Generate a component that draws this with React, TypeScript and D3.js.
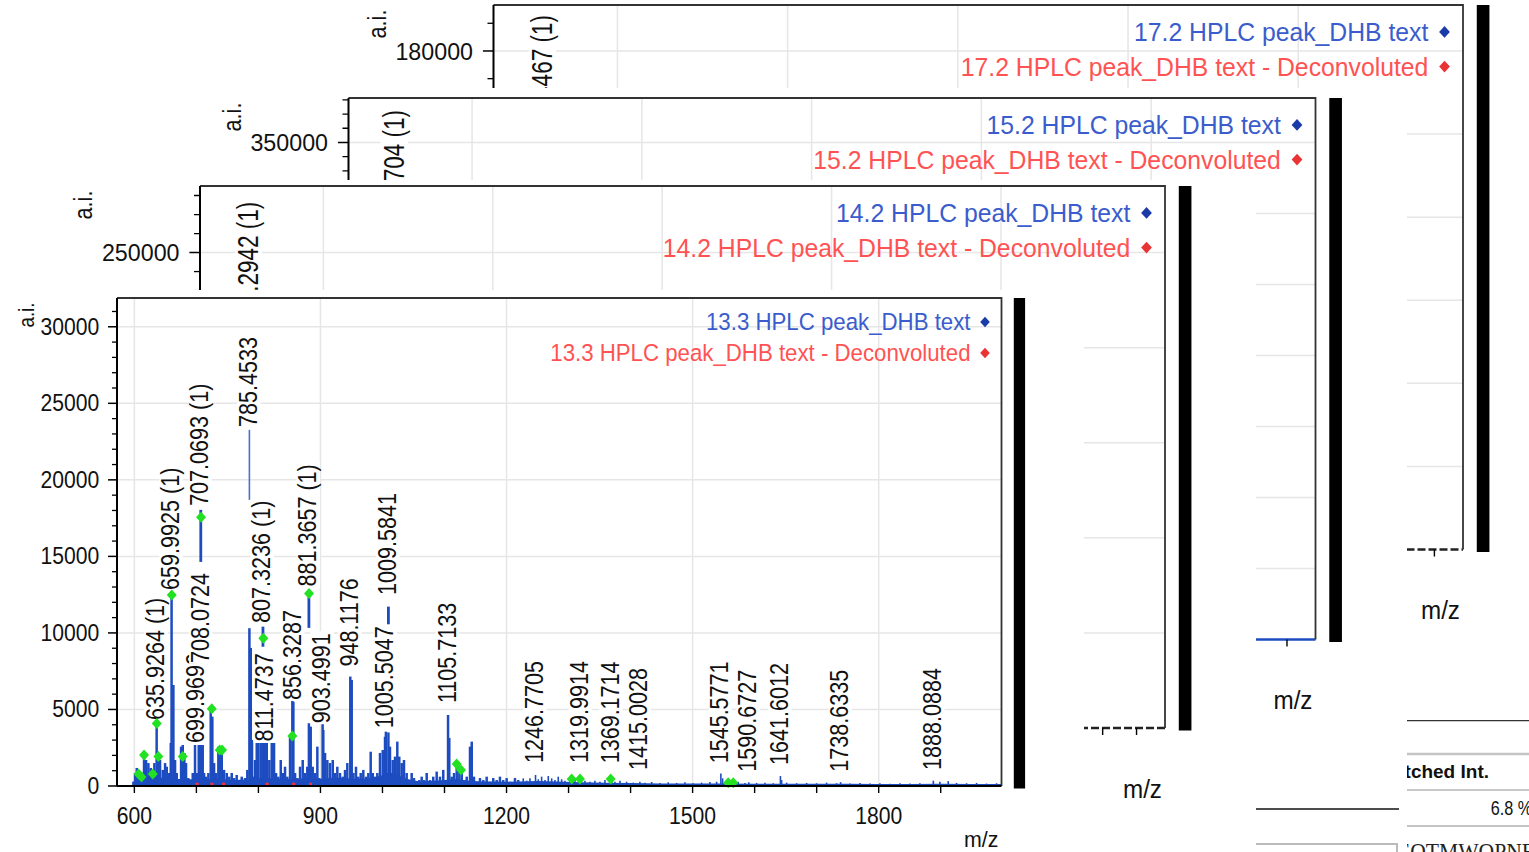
import * as d3 from 'd3';

const W = 1529;
const H = 852;
const FONT = "'Liberation Sans', Arial, Helvetica, sans-serif";
const BLUE = '#1d4cc0';
const LEGEND_BLUE = '#3a5ccc';
const LEGEND_RED = '#ff5252';
const GRID = '#e6e6e6';
const GREEN = '#22e022';

// ---------- data ----------
// spectra, back to front
const panelNames = [
  '17.2 HPLC peak_DHB text',
  '15.2 HPLC peak_DHB text',
  '14.2 HPLC peak_DHB text',
  '13.3 HPLC peak_DHB text',
];
const deconvolutedSuffix = ' - Deconvoluted';

// intensity axes (a.i.)
const yAxisMax = [196600, 381300, 285000, 31880];
const yMajorStep = [30000, 50000, 50000, 5000];
const yMinorStep = [10000, 10000, 10000, 1000];

// m/z axes
const mzDomainBack = [568, 1992];
const mzDomainFront = [572, 1998];
const mzGridBack = [750, 1000, 1250, 1500, 1750];
const mzTicksFront = [600, 900, 1200, 1500, 1800];

// the label peeking out of each back spectrum: [m/z, text, a.i. at label foot]
const backPanelLabels: [number, string, number][] = [
  [640.4467, '640.4467 (1)', 146900],
  [635.8704, '635.8704 (1)', 283000],
  [640.2942, '640.2942 (1)', 209700],
];

// 13.3 spectrum, sticks [m/z, a.i.]
const spectrumSticks: [number, number][] = [
  [598.4, 280], [601.1, 850], [603.9, 1180], [608.1, 720], [611.9, 850], [615.6, 2160],
  [618.9, 1700], [622.6, 1500], [626.4, 1180], [629.7, 850], [632.2, 1500], [635.93, 4100],
  [638.7, 2030], [641.4, 1700], [645.8, 1050], [649.5, 1500], [652.2, 1260], [655.9, 850],
  [658.7, 2810], [659.99, 12600], [662.9, 6600], [665.6, 1700], [668.3, 850], [672.0, 390],
  [675.3, 2570], [678.0, 2680], [680.6, 2160], [683.3, 1500], [687.0, 520], [690.9, 390],
  [694.1, 850], [697.8, 2680], [700.6, 850], [703.8, 2680], [707.07, 2680], [710.2, 2680],
  [712.4, 850], [715.6, 610], [719.3, 850], [723.1, 5180], [725.7, 4530], [728.5, 1500],
  [731.7, 850], [735.4, 2570], [738.1, 2460], [740.9, 2350], [744.6, 1050], [748.9, 850],
  [753.1, 610], [757.0, 850], [760.7, 520], [765.0, 720], [769.2, 390], [773.1, 610],
  [778.4, 520], [782.1, 1050], [785.45, 10310], [787.6, 9020], [789.7, 3010], [791.8, 610],
  [794.5, 1700], [797.3, 2810], [799.9, 2810], [803.7, 2810], [807.3, 2810], [810.7, 2810],
  [813.4, 2810], [817.6, 1700], [821.5, 2810], [825.2, 2810], [828.4, 850], [832.1, 610],
  [836.0, 1700], [839.2, 850], [842.9, 1260], [846.6, 610], [851.0, 3220], [854.7, 5600],
  [856.33, 5500], [859.1, 850], [862.7, 520], [867.1, 1260], [871.4, 1700], [875.1, 850],
  [878.8, 1260], [881.37, 4100], [884.3, 3880], [887.5, 1260], [891.3, 850], [895.0, 2570],
  [898.2, 520], [903.5, 4100], [904.6, 3660], [907.4, 2160], [911.1, 1700], [915.4, 1500],
  [919.8, 1700], [923.5, 850], [927.2, 1260], [931.5, 850], [935.9, 610], [939.6, 1050],
  [943.3, 1500], [948.12, 7150], [950.4, 6930], [953.2, 850], [957.3, 1260], [961.0, 610],
  [964.9, 850], [969.1, 1050], [973.5, 610], [977.2, 850], [981.0, 2240], [984.3, 850],
  [988.0, 610], [991.7, 850], [996.0, 2160], [1000.4, 2350], [1004.1, 3220], [1005.5, 3550],
  [1009.58, 3500], [1012.1, 2570], [1016.5, 1700], [1020.2, 1920], [1023.9, 2900], [1027.1, 1920],
  [1031.0, 1500], [1034.7, 1700], [1039.0, 850], [1043.2, 390], [1047.1, 850], [1050.8, 520],
  [1055.2, 280], [1059.4, 390], [1063.2, 610], [1066.9, 390], [1071.3, 850], [1076.6, 390],
  [1081.9, 610], [1087.4, 940], [1092.7, 610], [1098.0, 1050], [1105.71, 4640], [1107.7, 3140],
  [1111.6, 610], [1115.4, 850], [1119.7, 1700], [1123.9, 1260], [1127.8, 850], [1131.5, 390],
  [1135.8, 610], [1141.1, 2570], [1143.9, 2900], [1147.5, 610], [1151.9, 280], [1157.2, 520],
  [1162.5, 390], [1168.0, 610], [1173.3, 280], [1178.6, 520], [1184.1, 390], [1189.4, 610],
  [1194.7, 390], [1200.2, 520], [1205.5, 280], [1213.6, 520], [1218.9, 390], [1227.0, 500],
  [1232.5, 350], [1237.8, 500], [1246.77, 720], [1251.2, 440], [1256.6, 610], [1262.0, 390],
  [1267.3, 650], [1272.8, 500], [1278.1, 390], [1283.4, 610], [1288.9, 440], [1294.2, 350],
  [1302.3, 500], [1310.3, 390], [1319.99, 500], [1326.4, 350], [1334.5, 280], [1342.5, 350],
  [1350.6, 280], [1358.7, 390], [1369.17, 500], [1374.8, 280], [1382.9, 350], [1393.6, 280],
  [1404.3, 220], [1415.0, 280], [1423.2, 220], [1434.0, 260], [1447.3, 200], [1460.7, 240],
  [1474.3, 200], [1487.6, 240], [1501.0, 180], [1514.5, 220], [1527.9, 260], [1538.7, 280],
  [1545.58, 820], [1548.4, 500], [1557.4, 220], [1565.5, 240], [1573.5, 280], [1584.3, 200],
  [1590.67, 240], [1603.2, 200], [1616.6, 220], [1630.0, 180], [1641.6, 650], [1643.5, 390],
  [1651.6, 220], [1667.7, 180], [1683.8, 200], [1699.9, 180], [1716.0, 220], [1732.1, 180],
  [1738.63, 250], [1753.6, 160], [1769.8, 200], [1785.9, 160], [1802.0, 180], [1818.1, 150],
  [1834.2, 180], [1850.3, 160], [1866.4, 180], [1888.09, 350], [1898.7, 280], [1912.1, 320],
  [1925.6, 200], [1941.7, 180], [1957.8, 200], [1973.9, 160], [1990.0, 180],
];

// dense noise under the sticks [m/z, a.i.]
const noiseFloor: [number, number][] = [
  [598, 200], [602, 700], [612, 600], [625, 650], [640, 550], [660, 450], [680, 450],
  [700, 420], [720, 450], [740, 450], [760, 400], [780, 420], [800, 500], [820, 500],
  [840, 450], [860, 450], [880, 500], [900, 450], [920, 550], [940, 500], [960, 450],
  [980, 500], [1000, 700], [1010, 900], [1020, 800], [1040, 450], [1060, 300], [1080, 350],
  [1100, 400], [1120, 450], [1140, 350], [1160, 300], [1180, 300], [1200, 280], [1220, 300],
  [1250, 320], [1280, 300], [1320, 250], [1360, 220], [1400, 190], [1450, 170], [1500, 160],
  [1550, 170], [1600, 150], [1650, 150], [1700, 140], [1750, 140], [1800, 130], [1850, 130],
  [1900, 150], [1950, 130], [1998, 130],
];

// peak tops left showing above the label boxes [m/z, from a.i., to a.i.]
const peakTops: [number, number, number][] = [
  [707.07, 14640, 18040],
  [785.45, 18690, 23270],
  [807.32, 9100, 10410],
  [881.37, 10330, 12810],
  [1009.58, 10520, 11720],
];

// peak labels [m/z, text, a.i. at label foot]
const peakLabels: [number, string, number][] = [
  [635.9264, '635.9264 (1)', 4310],
  [659.9925, '659.9925 (1)', 12810],
  [699.9699, '699.9699', 2810],
  [708.0724, '708.0724', 8040],
  [707.0693, '707.0693 (1)', 18300],
  [785.4533, '785.4533', 23460],
  [807.3236, '807.3236 (1)', 10650],
  [811.4737, '811.4737', 2900],
  [856.3287, '856.3287', 5620],
  [881.3657, '881.3657 (1)', 13030],
  [903.4991, '903.4991', 4100],
  [948.1176, '948.1176', 7800],
  [1005.5047, '1005.5047', 3770],
  [1009.5841, '1009.5841', 12480],
  [1105.7133, '1105.7133', 5420],
  [1246.7705, '1246.7705', 1500],
  [1319.9914, '1319.9914', 1500],
  [1369.1714, '1369.1714', 1480],
  [1415.0028, '1415.0028', 1050],
  [1545.5771, '1545.5771', 1480],
  [1590.6727, '1590.6727', 930],
  [1641.6012, '1641.6012', 1370],
  [1738.6335, '1738.6335', 930],
  [1888.0884, '1888.0884', 1050],
];

// matched peaks (green) [m/z, a.i.]
const matchedPeaks: [number, number][] = [
  [606.8, 785], [611.6, 590], [615.6, 2030], [629.7, 785], [636.1, 4080], [638.7, 1920],
  [660.3, 12480], [678.0, 1920], [707.5, 17550], [724.8, 5050], [737.6, 2350], [741.4, 2350],
  [807.9, 9650], [854.7, 3270], [881.6, 12570], [1119.6, 1440], [1126.6, 1050], [1305.0, 460],
  [1318.4, 460], [1367.9, 460], [1557.4, 220], [1565.5, 220],
];

// deconvoluted peaks (red) [m/z, a.i.]
const deconvolutedPeaks: [number, number][] = [
  [701, 150], [725, 150], [744, 150], [814, 150], [857, 150], [884, 150],
];

// ---------- layout ----------
// frame [x, y, w, h], s = size of the screenshot, clip = the part not hidden by the next one
const LAYOUT = [
  { frame: [493.5, 5, 969.5, 544.5], s: 1.12, clip: [[360, 0, 1169, 88], [1407, 88, 122, 628]], base: 'dash' },
  { frame: [348.5, 98, 967, 541.5], s: 1.12, clip: [[0, 88, 1407, 92], [1256, 180, 151, 620]], base: 'blue' },
  { frame: [200, 186, 965, 542], s: 1.12, clip: [[0, 180, 1256, 110], [1084, 290, 172, 562]], base: 'dash' },
  { frame: [117, 298, 884.5, 488], s: 1, clip: [[0, 290, 1084, 562]], base: 'spectrum' },
];

const FRONT = {
  tickF: 23, tickSx: 0.92, tickGap: 17.7, majorLen: 9, minorLen: 5, xTickLen: 7,
  legendF: 23.3, legendSx: 0.955, labelF: 26, labelSx: 0.83,
  aiF: 22, aiSx: 0.85, aiDx: -91, aiDy: 17, mzF: 22.5, mzSx: 0.95, mzDy: 53.5, xLabelDy: 30,
};
const BACK = {
  tickF: 24.5, tickSx: 0.95, tickGap: 20.5, majorLen: 10.6, minorLen: 6, xTickLen: 7,
  legendF: 25, legendSx: 0.99, labelF: 30, labelSx: 0.75,
  aiF: 26, aiSx: 0.83, aiDx: -117, aiDy: 19, mzF: 25, mzSx: 0.97, mzDy: 61, xLabelDy: 33,
};

const ADV: Record<string, number> = { '.': 0.278, ' ': 0.278, '(': 0.333, ')': 0.333 };
const advance = (t: string) => Array.from(t).reduce((a, c) => a + (ADV[c] ?? 0.556), 0);

const HText = ({ x, y, f, sx, anchor = 'start', fill = '#111', children }: any) => (
  <text
    transform={`translate(${x},${y}) scale(${sx},1)`}
    fontSize={f}
    textAnchor={anchor}
    dominantBaseline="central"
    fill={fill}
  >
    {children}
  </text>
);

// rotated text, reading upwards; bx is the baseline (right side of the glyphs)
const VText = ({ bx, by, f, sx, anchor = 'start', children }: any) => (
  <text transform={`translate(${bx},${by}) rotate(-90) scale(${sx},1)`} fontSize={f} textAnchor={anchor} fill="#111">
    {children}
  </text>
);

const diamond = (r: number) => `M0,${-r * 1.1}L${r},0L0,${r * 1.1}L${-r},0Z`;

const PeakLabel = ({ px, by, text, st }: any) => {
  const f = st.labelF;
  const cx = px - 1.8;
  const bx = cx + 0.358 * f;
  const len = advance(text) * f * st.labelSx;
  return (
    <g>
      <rect x={bx - 0.76 * f} y={by - len - 2} width={0.9 * f} height={len + 3} fill="#fff" />
      <VText bx={bx} by={by} f={f} sx={st.labelSx}>
        {text}
      </VText>
    </g>
  );
};

function Panel({ idx }: { idx: number }) {
  const L = LAYOUT[idx];
  const isFront = idx === 3;
  const st = isFront ? FRONT : BACK;
  const s = L.s;
  const [fx, fy, fw, fh] = L.frame;
  const right = fx + fw;
  const bottom = fy + fh;

  const x = d3.scaleLinear().domain(isFront ? mzDomainFront : mzDomainBack).range([fx, right]);
  const y = d3.scaleLinear().domain([0, yAxisMax[idx]]).range([bottom, fy]);

  const majors = d3.range(0, yAxisMax[idx] + 1, yMajorStep[idx]);
  const minors = d3.range(0, yAxisMax[idx] + 1, yMinorStep[idx]).filter(v => v % yMajorStep[idx] !== 0);
  const vGrid = isFront ? mzTicksFront : mzGridBack;
  const xTicks = isFront ? d3.range(600, 2000, 100) : d3.range(600, 1992, 50);

  const floorArea = d3
    .area<[number, number]>()
    .x(d => x(d[0]))
    .y0(y(0))
    .y1(d => y(d[1]));

  const aiCx = fx + st.aiDx;
  const aiCy = fy + st.aiDy;

  return (
    <g>
      {/* grid */}
      {vGrid.map(v => (
        <line key={`vg${v}`} x1={x(v)} x2={x(v)} y1={fy} y2={bottom} stroke={GRID} strokeWidth={1.5} />
      ))}
      {majors
        .filter(v => v > 0)
        .map(v => (
          <line key={`hg${v}`} x1={fx} x2={right} y1={y(v)} y2={y(v)} stroke={GRID} strokeWidth={1.5} />
        ))}

      {/* spectrum */}
      {isFront && (
        <g>
          <path d={floorArea(noiseFloor) || ''} fill={BLUE} />
          {spectrumSticks.map(([m, v]) => (
            <line
              key={`st${m}`}
              x1={x(m)}
              x2={x(m)}
              y1={y(0)}
              y2={y(v)}
              stroke={BLUE}
              strokeWidth={m < 1220 ? 2.5 : 1.6}
            />
          ))}
          {peakTops.map(([m, lo, hi]) => (
            <line
              key={`pt${m}`}
              x1={x(m)}
              x2={x(m)}
              y1={y(lo)}
              y2={y(hi)}
              stroke={m === 785.45 ? '#4a70d0' : BLUE}
              strokeWidth={m === 785.45 ? 1.6 : 2.8}
            />
          ))}
          {deconvolutedPeaks.map(([m, v]) => (
            <rect key={`dc${m}`} x={x(m) - 1.5} y={y(v) - 1} width={3} height={y(0) - y(v) + 1} fill="#ff3030" />
          ))}
          {peakLabels.map(([m, text, at]) => (
            <PeakLabel key={`pl${text}`} px={x(m)} by={y(at)} text={text} st={st} />
          ))}
          {matchedPeaks.map(([m, v]) => (
            <path key={`mp${m}`} d={diamond(5)} transform={`translate(${x(m)},${y(v)})`} fill={GREEN} />
          ))}
        </g>
      )}
      {!isFront && (
        <g>
          <PeakLabel
            px={x(backPanelLabels[idx][0])}
            by={y(backPanelLabels[idx][2])}
            text={backPanelLabels[idx][1]}
            st={st}
          />
          <line
            x1={fx}
            x2={right}
            y1={bottom}
            y2={bottom}
            stroke={L.base === 'blue' ? BLUE : '#222'}
            strokeWidth={2.4}
            strokeDasharray={L.base === 'dash' ? '8 3' : undefined}
          />
        </g>
      )}

      {/* frame and axes */}
      <path d={`M${fx},${fy}H${right}V${bottom}`} fill="none" stroke="#333" strokeWidth={1.8} />
      <line x1={fx} x2={fx} y1={fy} y2={bottom} stroke="#000" strokeWidth={2} />
      {isFront && <line x1={fx} x2={right} y1={bottom} y2={bottom} stroke="#000" strokeWidth={2} />}

      {majors.map(v => (
        <line key={`ym${v}`} x1={fx - st.majorLen} x2={fx} y1={y(v)} y2={y(v)} stroke="#000" strokeWidth={1.5} />
      ))}
      {minors.map(v => (
        <line key={`yn${v}`} x1={fx - st.minorLen} x2={fx} y1={y(v)} y2={y(v)} stroke="#000" strokeWidth={1.3} />
      ))}
      {majors.map(v => (
        <HText key={`yl${v}`} x={fx - st.tickGap} y={y(v)} f={st.tickF} sx={st.tickSx} anchor="end">
          {v}
        </HText>
      ))}
      {xTicks.map(v => (
        <line key={`xt${v}`} x1={x(v)} x2={x(v)} y1={bottom} y2={bottom + st.xTickLen} stroke="#000" strokeWidth={1.4} />
      ))}
      {isFront &&
        mzTicksFront.map(v => (
          <HText key={`xl${v}`} x={x(v)} y={bottom + st.xLabelDy} f={st.tickF} sx={st.tickSx} anchor="middle">
            {v}
          </HText>
        ))}

      {/* axis titles */}
      <VText bx={aiCx + 0.36 * st.aiF} by={aiCy} f={st.aiF} sx={st.aiSx} anchor="middle">
        a.i.
      </VText>
      <HText x={right - 3} y={bottom + st.mzDy} f={st.mzF} sx={st.mzSx} anchor="end">
        m/z
      </HText>

      {/* legend */}
      <HText x={right - 31 * s} y={fy + 24 * s} f={st.legendF} sx={st.legendSx} anchor="end" fill={LEGEND_BLUE}>
        {panelNames[idx]}
      </HText>
      <path d={diamond(4.8 * s)} transform={`translate(${right - 16.5 * s},${fy + 24 * s})`} fill="#1a3aa8" />
      <HText x={right - 31 * s} y={fy + 55 * s} f={st.legendF} sx={st.legendSx} anchor="end" fill={LEGEND_RED}>
        {panelNames[idx] + deconvolutedSuffix}
      </HText>
      <path d={diamond(4.8 * s)} transform={`translate(${right - 16.5 * s},${fy + 55 * s})`} fill="#e83434" />

      {/* black bar at the edge of the screenshot */}
      <rect x={right + 12.3 * s} y={fy} width={11.3 * s} height={fh + 2.5} fill="#000" />
    </g>
  );
}

// bits of the page that lies under the screenshots
const Backdrop = () => (
  <g>
    <clipPath id="table-clip">
      <rect x={1407} y={700} width={122} height={152} />
    </clipPath>
    <line x1={1407} x2={W} y1={720.7} y2={720.7} stroke="#333" strokeWidth={1.3} />
    <line x1={1407} x2={W} y1={754} y2={754} stroke="#c4c4c4" strokeWidth={2.5} />
    <line x1={1407} x2={W} y1={790} y2={790} stroke="#c8c8c8" strokeWidth={2} />
    <line x1={1407} x2={W} y1={826} y2={826} stroke="#c4c4c4" strokeWidth={2} />
    <g clipPath="url(#table-clip)">
      <text x={1489} y={778.3} fontSize={19} fontWeight="bold" textAnchor="end" fill="#111">
        Matched Int.
      </text>
      <text transform="translate(1490.7,815) scale(0.81,1)" fontSize={20} fill="#111">
        6.8 %
      </text>
      <text transform="translate(1397,859) scale(0.9,1)" fontSize={24} fontFamily="'Liberation Serif', serif" fill="#222">
        EQTMWQPNFTL
      </text>
    </g>
    <line x1={1256} x2={1399} y1={809} y2={809} stroke="#111" strokeWidth={1.3} />
    <path d="M1256,844H1397V852" fill="none" stroke="#bbb" strokeWidth={2} />
  </g>
);

export default function App() {
  return (
    <div style={{ position: 'absolute', left: 0, top: 0 }}>
      <svg width={W} height={H} style={{ display: 'block', background: '#fff' }} fontFamily={FONT}>
        <defs>
          {LAYOUT.map((L, i) => (
            <clipPath key={`c${i}`} id={`panel-clip-${i}`}>
              {L.clip.map((r, j) => (
                <rect key={j} x={r[0]} y={r[1]} width={r[2]} height={r[3]} />
              ))}
            </clipPath>
          ))}
        </defs>
        <rect width={W} height={H} fill="#fff" />
        <Backdrop />
        {LAYOUT.map((L, i) => (
          <g key={`p${i}`} clipPath={`url(#panel-clip-${i})`}>
            <Panel idx={i} />
          </g>
        ))}
      </svg>
    </div>
  );
}
